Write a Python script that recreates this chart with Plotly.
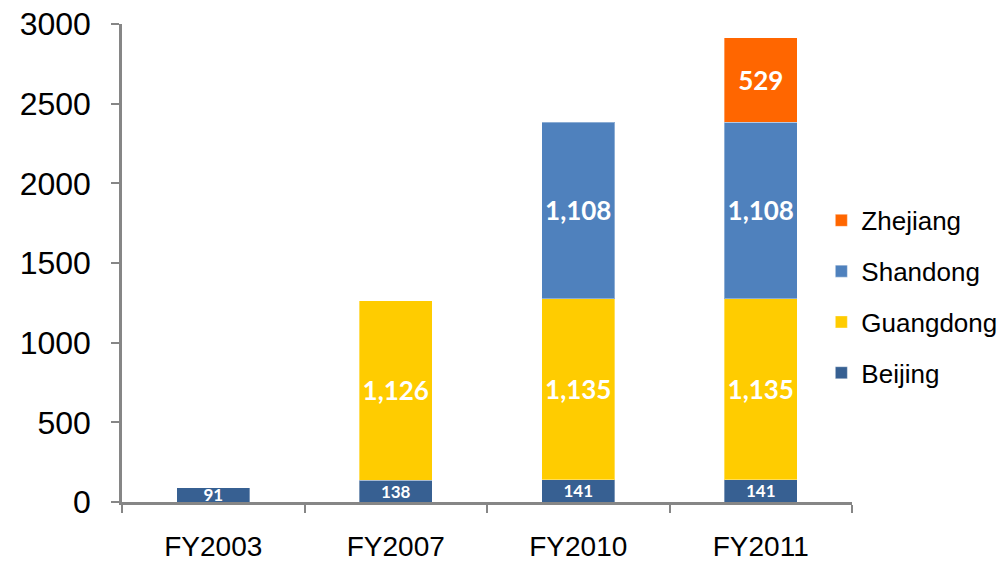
import plotly.graph_objects as go

years = ["FY2003", "FY2007", "FY2010", "FY2011"]
beijing = [91, 138, 141, 141]
guangdong = [None, 1126, 1135, 1135]
shandong = [None, None, 1108, 1108]
zhejiang = [None, None, None, 529]

series = [
    ("Beijing", beijing, "#376092", 17),
    ("Guangdong", guangdong, "#FFCC00", 26),
    ("Shandong", shandong, "#4F81BD", 26),
    ("Zhejiang", zhejiang, "#FF6600", 26),
]

fig = go.Figure()
for rank, (name, vals, color, tsize) in enumerate(series):
    fig.add_trace(go.Bar(
        x=years, y=vals, name=name, legendgroup=name, legendrank=10 - rank,
        marker=dict(color=color, line=dict(color="rgba(255,255,255,0.35)", width=1)),
        text=[f"{v:,}" if v else "" for v in vals],
        textposition="inside", insidetextanchor="middle", constraintext="none",
        textangle=0,
        textfont=dict(family="Lato", size=tsize, color="white", weight="bold"),
        cliponaxis=False,
    ))

axis_col = "#868686"
fig.update_layout(
    width=1008, height=565,
    barmode="stack", bargap=0.6,
    plot_bgcolor="white", paper_bgcolor="white",
    margin=dict(l=122, r=156, t=24, b=63, autoexpand=False),
    font=dict(family="Liberation Sans", color="black"),
    legend=dict(
        traceorder="grouped", tracegroupgap=14,
        x=0.958, xanchor="left", y=0.429, yanchor="middle",
        font=dict(size=26, family="Liberation Sans"),
        bgcolor="rgba(0,0,0,0)",
    ),
)
fig.update_yaxes(
    range=[0, 3000], dtick=500, showgrid=False, zeroline=False, automargin=False,
    showline=True, linecolor=axis_col, linewidth=2.5,
    ticks="outside", ticklen=8, tickcolor=axis_col, tickwidth=2,
    tickfont=dict(size=32), ticklabelstandoff=14, ticklabeloverflow="allow",
)
fig.update_xaxes(
    range=[-0.5, 3.5], showgrid=False, automargin=False,
    showline=True, linecolor=axis_col, linewidth=2.5,
    ticks="outside", tickson="boundaries", ticklen=8, tickcolor=axis_col, tickwidth=2,
    tickfont=dict(size=28), ticklabelstandoff=18, ticklabeloverflow="allow",
)

# drop the browser's default 8px body margin so the figure fills the window
fig.write_html("out.html", config={"displayModeBar": False},
               post_script="document.body.style.margin='0';")
